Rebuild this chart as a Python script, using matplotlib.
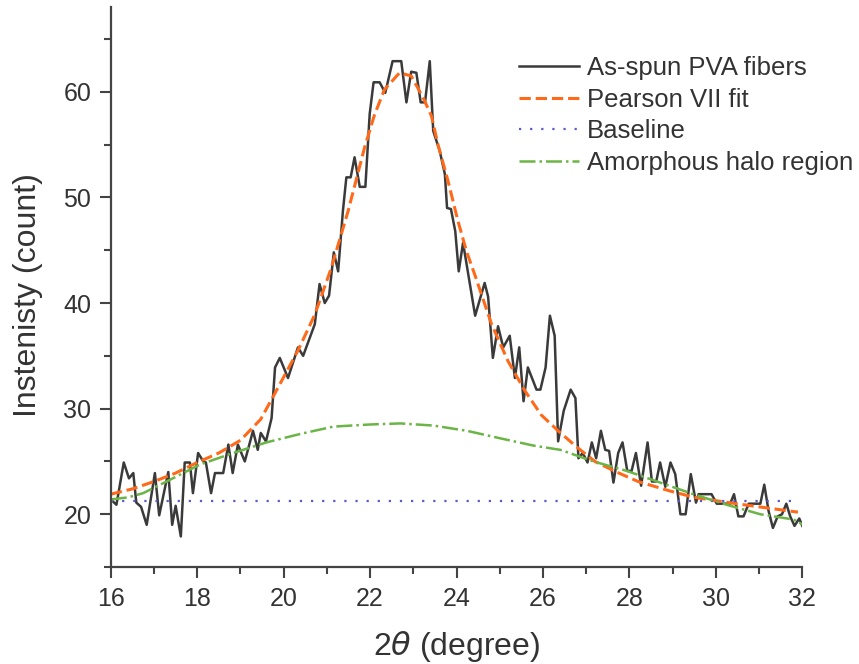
import matplotlib
matplotlib.use('Agg')
import matplotlib.pyplot as plt
from matplotlib.ticker import MultipleLocator

plt.rcParams['font.family'] = ['Liberation Sans', 'DejaVu Sans']

# As-spun PVA fibers
x_raw = [16.0, 16.13, 16.30, 16.42, 16.52, 16.59, 16.70, 16.83, 17.02, 17.12,
         17.33, 17.42, 17.50, 17.62, 17.71, 17.83, 17.90, 18.02, 18.14, 18.20,
         18.32, 18.41, 18.60, 18.72, 18.82, 18.94, 19.02, 19.10, 19.29, 19.40,
         19.47, 19.59, 19.72, 19.80, 19.91, 20.10, 20.33, 20.45, 20.72, 20.83,
         20.95, 21.05, 21.16, 21.26, 21.37, 21.45, 21.55, 21.64, 21.76, 21.89,
         21.99, 22.08, 22.22, 22.35, 22.52, 22.72, 22.84, 22.95, 23.07, 23.17,
         23.27, 23.38, 23.46, 23.61, 23.73, 23.78, 23.87, 23.97, 24.05, 24.15,
         24.43, 24.65, 24.73, 24.84, 24.96, 25.08, 25.23, 25.35, 25.45, 25.55,
         25.65, 25.85, 25.94, 26.06, 26.16, 26.27, 26.35, 26.48, 26.64, 26.75,
         26.82, 26.92, 27.03, 27.13, 27.23, 27.34, 27.44, 27.53, 27.63, 27.74,
         27.84, 27.95, 28.05, 28.15, 28.27, 28.42, 28.52, 28.62, 28.71, 28.83,
         28.95, 29.06, 29.18, 29.30, 29.42, 29.54, 29.60, 29.90, 30.02, 30.33,
         30.42, 30.52, 30.64, 30.76, 31.03, 31.12, 31.22, 31.32, 31.43, 31.53,
         31.63, 31.72, 31.82, 31.93, 32.00]
y_raw = [21.4, 20.9, 24.9, 23.4, 23.9, 21.1, 20.7, 19.0, 23.9, 19.9,
         24.0, 19.0, 20.8, 17.9, 24.9, 24.9, 22.0, 25.8, 25.0, 24.9,
         22.0, 23.9, 23.9, 26.6, 23.9, 26.6, 25.8, 25.0, 27.9, 26.1,
         27.7, 26.9, 29.1, 33.9, 34.8, 32.9, 35.8, 35.0, 38.0, 41.8,
         40.0, 40.7, 44.8, 43.0, 48.7, 51.9, 51.9, 53.8, 51.0, 51.0,
         57.9, 60.9, 60.9, 59.9, 62.9, 62.9, 59.0, 61.9, 61.8, 59.0,
         59.0, 62.9, 56.3, 54.4, 52.2, 49.0, 48.9, 46.8, 43.0, 45.7,
         38.8, 41.9, 40.6, 34.8, 37.8, 35.8, 36.9, 32.9, 35.8, 30.7,
         33.9, 31.8, 31.8, 33.9, 38.8, 36.9, 26.9, 29.8, 31.8, 31.0,
         25.3, 25.8, 24.9, 26.8, 25.3, 27.9, 26.1, 26.0, 23.0, 25.8,
         26.8, 24.1, 24.1, 25.8, 22.7, 26.8, 23.1, 23.1, 24.9, 22.6,
         24.9, 23.8, 20.0, 20.0, 23.8, 21.1, 21.9, 21.9, 21.0, 21.0,
         21.9, 19.8, 19.8, 21.0, 21.0, 22.8, 20.3, 18.7, 19.8, 20.0,
         21.0, 19.8, 18.9, 19.6, 18.9]

# Pearson VII fit
x_fit = [16.0, 16.5, 17.0, 17.5, 18.0, 18.5, 19.0, 19.47, 19.87, 20.33,
         20.72, 21.1, 21.49, 21.87, 22.1, 22.33, 22.68, 22.95, 23.22, 23.42,
         23.57, 23.8, 24.03, 24.23, 24.42, 24.81, 25.19, 25.58, 25.96, 26.35,
         26.77, 27.2, 27.7, 28.2, 28.94, 29.5, 30.3, 31.0, 31.9]
y_fit = [21.9, 22.4, 23.1, 23.9, 24.9, 25.8, 27.0, 29.0, 32.0, 35.5,
         38.9, 43.3, 48.7, 54.7, 57.8, 60.2, 61.8, 61.5, 59.5, 57.7,
         55.0, 51.6, 47.8, 44.9, 42.7, 38.0, 34.5, 31.7, 29.4, 27.9,
         26.4, 25.0, 24.0, 23.1, 22.2, 21.6, 21.1, 20.7, 20.2]

# baseline
x_base = [16.0, 31.88]
y_base = [21.3, 21.3]

# amorphous halo
x_halo = [16.0, 16.4, 16.75, 17.29, 18.06, 18.83, 19.6, 20.38, 21.15, 22.0,
          22.7, 23.46, 24.24, 25.0, 25.78, 26.4, 27.17, 27.94, 28.71, 29.48,
          30.25, 31.03, 31.8, 32.0]
y_halo = [21.4, 21.6, 22.0, 23.1, 24.7, 25.8, 26.8, 27.6, 28.3, 28.5,
          28.6, 28.4, 27.9, 27.2, 26.5, 26.1, 25.0, 24.1, 23.0, 21.9,
          20.9, 20.0, 19.5, 19.05]

txt = '#333333'
fig = plt.figure(figsize=(8.59, 6.64), dpi=100)
ax = fig.add_axes([0.129, 0.146, 0.805, 0.843])

ax.plot(x_raw, y_raw, color='#3a3a3a', lw=1.8, label='As-spun PVA fibers')
ax.plot(x_fit, y_fit, color='#ff6a1a', lw=2.2, ls='--', label='Pearson VII fit')
ax.plot(x_base, y_base, color='#5a5ac8', lw=1.6, ls=(0, (1, 4)), label='Baseline')
ax.plot(x_halo, y_halo, color='#6ab545', lw=1.8, ls='-.', label='Amorphous halo region')

ax.set_xlim(16, 32)
ax.set_ylim(15, 68)
ax.xaxis.set_major_locator(MultipleLocator(2))
ax.xaxis.set_minor_locator(MultipleLocator(1))
ax.yaxis.set_major_locator(MultipleLocator(10))
ax.yaxis.set_minor_locator(MultipleLocator(5))
ax.set_yticks([20, 30, 40, 50, 60])

for s in ['top', 'right']:
    ax.spines[s].set_visible(False)
for s in ['left', 'bottom']:
    ax.spines[s].set_color('#444444')
    ax.spines[s].set_linewidth(1.6)
ax.tick_params(which='major', direction='out', length=8, width=1.5,
               colors='#444444', labelcolor=txt, labelsize=18, pad=6)
ax.tick_params(which='minor', direction='out', length=5, width=1.5, colors='#444444')

ax.set_xlabel(r'2$\theta$ (degree)', fontsize=23, color=txt, labelpad=13)
ax.set_ylabel('Instenisty (count)', fontsize=23, color=txt)
ax.yaxis.set_label_coords(-0.098, 0.486)

leg = ax.legend(loc='upper left', bbox_to_anchor=(519 / 859, 1 - 56 / 664),
                bbox_transform=fig.transFigure, frameon=False, fontsize=18.5,
                handlelength=2.35, handletextpad=0.3, labelspacing=0.3,
                borderpad=0, borderaxespad=0)
for t in leg.get_texts():
    t.set_color(txt)

fig.savefig('out.png', dpi=100)
